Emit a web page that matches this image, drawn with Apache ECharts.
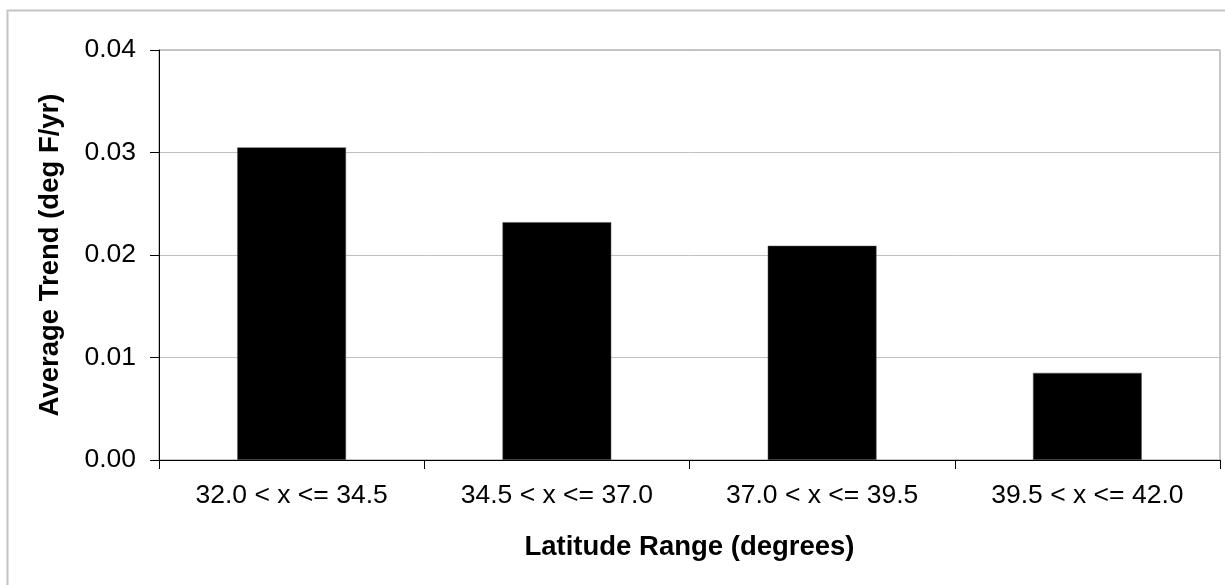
<!DOCTYPE html>
<html>
<head>
<meta charset="utf-8">
<script src="https://cdn.jsdelivr.net/npm/echarts@6/dist/echarts.min.js"></script>
<style>
  html, body { margin: 0; padding: 0; background: #fff; }
  #main { width: 1225px; height: 585px; }
</style>
</head>
<body>
<div id="main"></div>
<script>
// 数据
var categories = ['32.0 < x <= 34.5', '34.5 < x <= 37.0', '37.0 < x <= 39.5', '39.5 < x <= 42.0'];
var trendValues = [0.0305, 0.0232, 0.0209, 0.0085];
var yTicks = [0, 0.01, 0.02, 0.03, 0.04];

var chart = echarts.init(document.getElementById('main'));
var fontFam = '"Liberation Sans", Arial, sans-serif';

var option = {
    backgroundColor: '#fff',
    animation: false,
    textStyle: { fontFamily: fontFam },
    // outer frame (only left/top visible in the reference)
    graphic: [{
        type: 'rect',
        shape: { x: 7.5, y: 10.5, width: 1240, height: 600 },
        style: { fill: 'none', stroke: '#c4c4c4', lineWidth: 2 },
        silent: true
    }],
    grid: {
        left: 159, right: 5, top: 50, bottom: 125,
        show: true,
        borderColor: '#8c8c8c',
        borderWidth: 1
    },
    xAxis: {
        type: 'category',
        data: categories,
        name: 'Latitude Range (degrees)',
        nameLocation: 'middle',
        nameGap: 73,
        nameTextStyle: { fontSize: 27.5, fontWeight: 'bold', color: '#000', fontFamily: fontFam },
        axisLine: { lineStyle: { color: '#000', width: 1 } },
        axisTick: { show: true, length: 9, lineStyle: { color: '#000' } },
        axisLabel: { fontSize: 26.5, color: '#000', margin: 22, fontFamily: fontFam, interval: 0 },
        splitLine: { show: false }
    },
    yAxis: {
        type: 'value',
        min: yTicks[0],
        max: yTicks[yTicks.length - 1],
        interval: 0.01,
        name: 'Average Trend (deg F/yr)',
        nameLocation: 'middle',
        nameGap: 95,
        nameTextStyle: { fontSize: 27.5, fontWeight: 'bold', color: '#000', fontFamily: fontFam },
        axisLine: { show: true, lineStyle: { color: '#000', width: 1 } },
        axisTick: { show: true, length: 9, lineStyle: { color: '#000' } },
        axisLabel: {
            fontSize: 26.5, color: '#000', margin: 23, fontFamily: fontFam,
            formatter: function (v) { return v.toFixed(2); }
        },
        splitLine: { show: true, lineStyle: { color: '#c0c0c0', width: 1 } }
    },
    series: [{
        type: 'bar',
        data: trendValues,
        barWidth: '41%',
        itemStyle: { color: '#000', borderColor: '#555', borderWidth: 0.5 }
    }]
};

chart.setOption(option);
</script>
</body>
</html>
